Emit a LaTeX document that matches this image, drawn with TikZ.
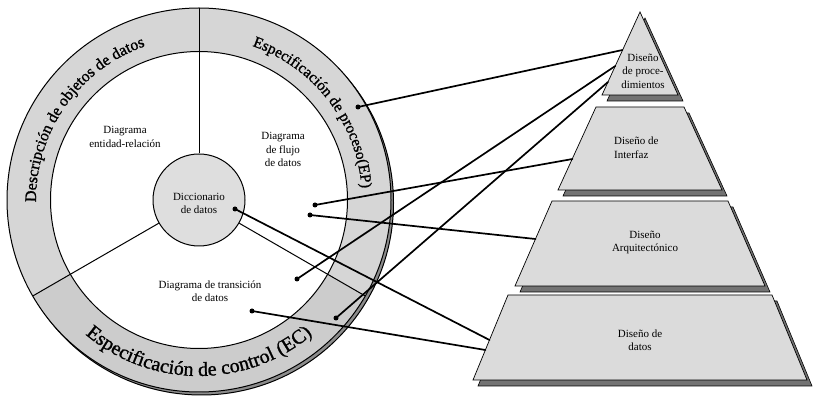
\documentclass[tikz,border=0pt]{standalone}
\usepackage{fontspec}
\setmainfont{Liberation Serif}
\newfontfamily\ringfont{Liberation Serif}[FakeBold=1.2]
\usetikzlibrary{decorations.text,calc}
\definecolor{ringfill}{gray}{0.84}
\definecolor{ringfillb}{gray}{0.80}
\definecolor{ringshade}{gray}{0.55}
\definecolor{centerfill}{gray}{0.87}
\definecolor{tierfill}{gray}{0.86}
\definecolor{tiershade}{gray}{0.45}
\begin{document}
\begin{tikzpicture}[x=1pt,y=1pt,
  lbl/.style={font=\fontsize{11}{13.5}\selectfont, align=center, inner sep=0pt},
  conn/.style={line width=1.7pt, line cap=round},
  dotnode/.style={circle, fill=black, inner sep=0pt, minimum size=5pt},
  tier/.style={fill=tierfill, draw=black, line width=0.7pt, line join=miter},
  tiershadow/.style={fill=tiershade, draw=black, line width=0.6pt},
  ringline/.style={line width=1pt}]
\useasboundingbox (0,0) rectangle (817,399);

% ---------------- circle ----------------
\coordinate (C) at (199,199);
\draw[ringline, fill=ringshade] ($(C)+(2.5,-3)$) circle (192);
\fill[ringfill] (C) -- ++(90:192) arc[start angle=90, end angle=210, radius=192] -- cycle;
\fill[ringfill] (C) -- ++(-30:192) arc[start angle=-30, end angle=90, radius=192] -- cycle;
\fill[ringfillb] (C) -- ++(210:192) arc[start angle=210, end angle=330, radius=192] -- cycle;
\draw[ringline] (C) circle (192);
\draw[ringline, fill=white] (C) circle (148.5);
\node[circle, draw, fill=centerfill, minimum size=92pt, inner sep=0pt, line width=1pt] (dict) at (C) {};

\coordinate (o90) at ($(C)+(90:192)$);
\coordinate (o210) at ($(C)+(210:192)$);
\coordinate (o330) at ($(C)+(-30:192)$);
\draw[ringline] (dict.90) -- (o90);
\draw[ringline] (dict.210) -- (o210);
\draw[ringline] (dict.-30) -- (o330);

% ring texts
\path[decorate, decoration={text along path, text align=center,
  text={|\ringfont\fontsize{16}{18}\selectfont|Descripción de objetos de datos}}]
  ($(C)+(195:163)$) arc[start angle=195, end angle=95, radius=163];
\path[decorate, decoration={text along path, text align=center,
  text={|\ringfont\fontsize{15.5}{18}\selectfont|Especificación de proceso(EP)}}]
  ($(C)+(88:163)$) arc[start angle=88, end angle=-13, radius=163];
\path[decorate, decoration={text along path, text align=center,
  text={|\ringfont\fontsize{20}{22}\selectfont|Especificación de control (EC)}}]
  ($(C)+(214:176)$) arc[start angle=214, end angle=326, radius=176];

% inner texts
\node[lbl] (er) at (125,262) {Diagrama\\entidad-relación};
\node[lbl] (dfd) at (283,249.5) {Diagrama\\de flujo\\de datos};
\node[lbl] (dictlbl) at (199,195.5) {Diccionario\\de datos};
\node[lbl] (dtd) at (210,108) {Diagrama de transición\\de datos};

% ---------------- pyramid ----------------
\draw[tiershadow, shift={(5,-6)}] (640,387) -- (602,304) -- (678,304) -- cycle;
\draw[tier] (640,387) -- (602,304) -- (678,304) -- cycle;
\draw[tiershadow, shift={(5,-6)}] (596,292) -- (684,292) -- (722,209) -- (558,209) -- cycle;
\draw[tier] (596,292) -- (684,292) -- (722,209) -- (558,209) -- cycle;
\draw[tiershadow, shift={(5,-6)}] (552,198) -- (728,198) -- (765,113) -- (515,113) -- cycle;
\draw[tier] (552,198) -- (728,198) -- (765,113) -- (515,113) -- cycle;
\draw[tiershadow, shift={(5,-6)}] (508,104) -- (772,104) -- (807,19) -- (473,19) -- cycle;
\draw[tier] (508,104) -- (772,104) -- (807,19) -- (473,19) -- cycle;

\node[lbl] (proc) at (643,328) {Diseño\\de proce-\\dimientos};
\node[lbl, align=left, anchor=west] (intf) at (614,251.5) {Diseño de\\Interfaz};
\node[lbl] (arq) at (645,156.5) {Diseño\\Arquitectónico};
\node[lbl] (dat) at (640,59) {Diseño de\\datos};

% ---------------- connectors ----------------
\coordinate (t1) at (622.5,349);
\coordinate (t2) at (615.3,333);
\coordinate (t3) at (608,317);
\coordinate (i1) at (572.5,240);
\coordinate (a1) at (535.5,160);
\coordinate (b1) at (489.5,59);
\coordinate (b2) at (485.4,49);

\node[dotnode] (d1) at (358,292) {};
\node[dotnode] (d2) at (315,194) {};
\node[dotnode] (d3) at (310,184) {};
\node[dotnode] (d4) at (297,120) {};
\node[dotnode] (d5) at (336,81) {};
\node[dotnode] (d6) at (235,190) {};
\node[dotnode] (d7) at (252,88) {};

\draw[conn] (d1.center) -- (t1);
\draw[conn] (d4.center) -- (t2);
\draw[conn] (d5.center) -- (t3);
\draw[conn] (d2.center) -- (i1);
\draw[conn] (d3.center) -- (a1);
\draw[conn] (d6.center) -- (b1);
\draw[conn] (d7.center) -- (b2);
\end{tikzpicture}
\end{document}
